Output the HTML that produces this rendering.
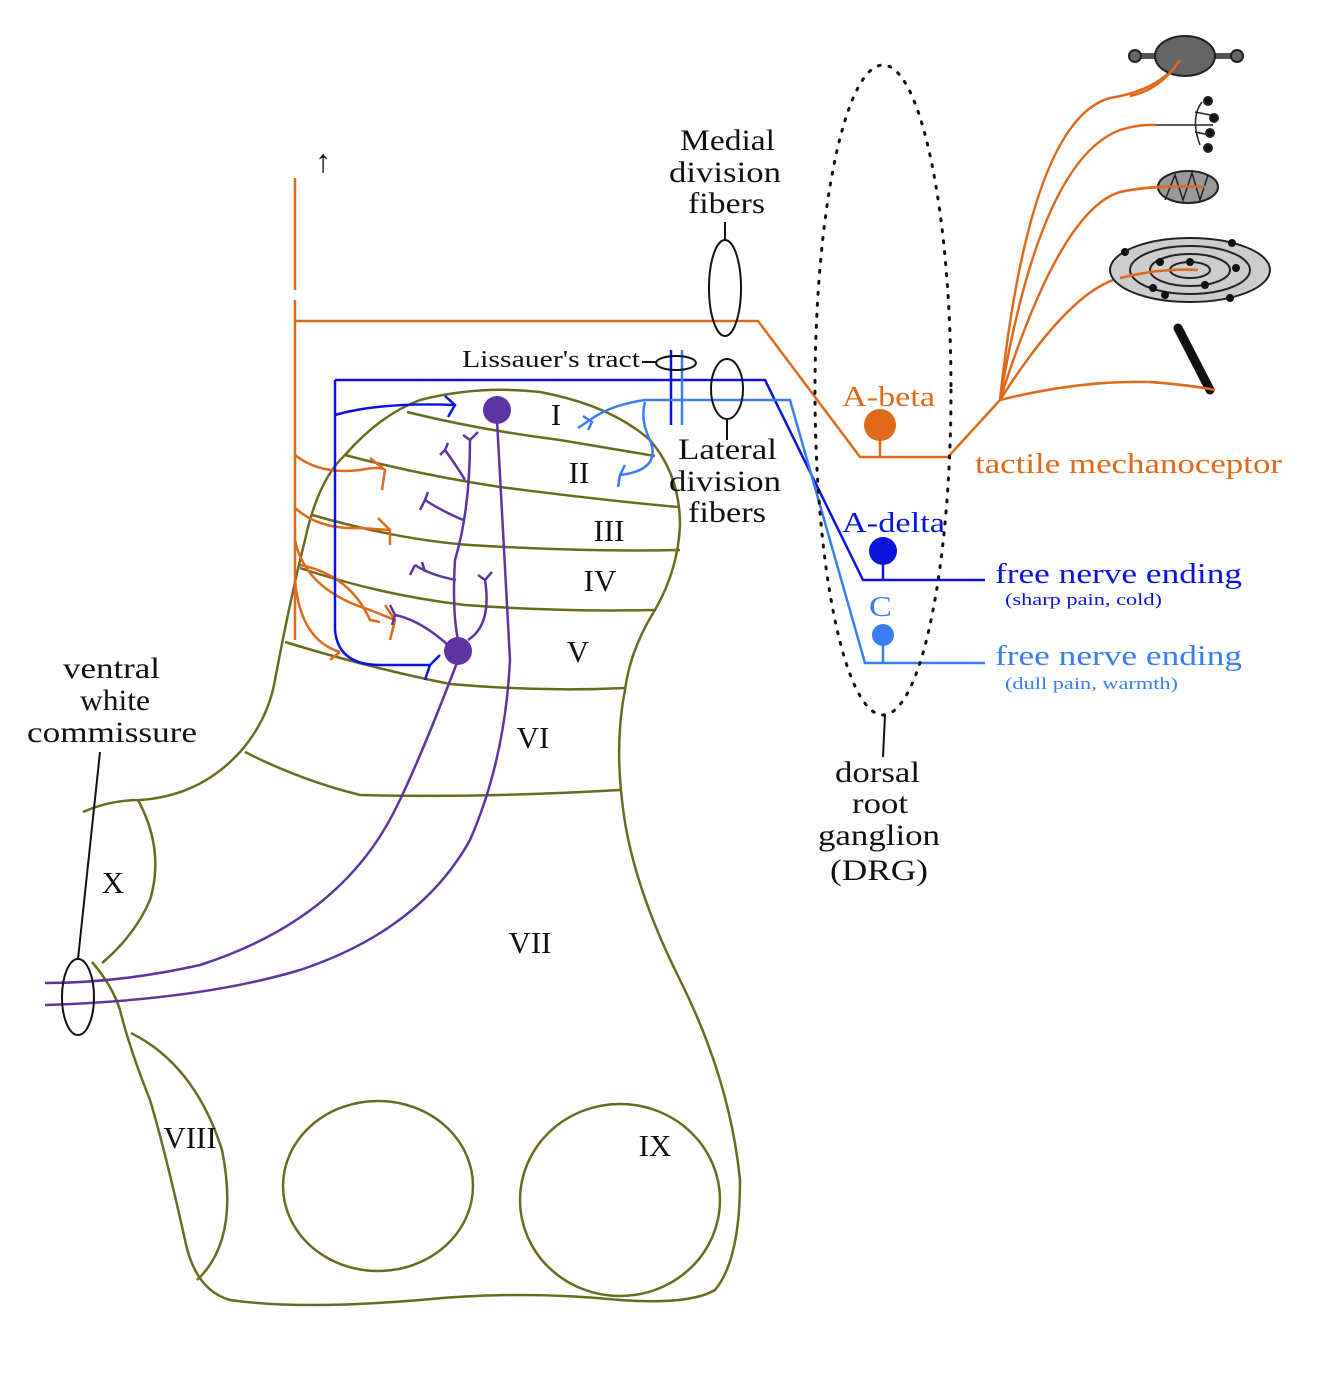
<!DOCTYPE html>
<html><head><meta charset="utf-8"><style>
html,body{margin:0;padding:0;background:#fff}
svg{display:block}
text{font-family:"Liberation Serif",serif}
</style></head><body>
<svg width="1334" height="1385" viewBox="0 0 1334 1385" xmlns="http://www.w3.org/2000/svg">
<g fill="none" stroke="#6b6b1f" stroke-width="2.5">
<path d="M83,812 Q110,800 140,800 Q200,796 240,752 Q268,720 275,680 Q290,600 305,540 Q318,480 345,455 Q380,415 420,400 Q480,385 540,392 Q610,405 650,440 Q680,475 680,525 Q678,570 655,610 Q630,650 625,690 Q615,740 622,800 Q630,880 680,980 Q730,1080 740,1180 Q740,1260 715,1290 Q690,1305 620,1300 Q520,1290 420,1300 Q300,1310 230,1300 Q195,1290 185,1240 Q165,1150 150,1100 Q130,1050 120,1010 Q112,985 92,962"/>
<path d="M138,800 Q165,850 150,900 Q135,935 102,963"/>
<path d="M131,1033 Q195,1065 222,1150 Q240,1240 197,1280"/>
<path d="M407,412 Q480,430 560,440 Q620,450 655,456"/>
<path d="M345,455 Q420,475 500,487 Q600,500 678,507"/>
<path d="M312,515 Q400,540 470,545 Q580,552 680,550"/>
<path d="M300,568 Q380,595 465,605 Q560,612 655,610"/>
<path d="M285,642 Q370,668 450,684 Q540,692 625,688"/>
<path d="M245,752 Q300,780 360,795 Q480,798 620,790"/>
<ellipse cx="378" cy="1186" rx="95" ry="85"/>
<ellipse cx="620" cy="1200" rx="100" ry="96"/>
</g>
<g font-size="31" fill="#111" text-anchor="middle">
<text x="556" y="425">I</text><text x="579" y="483">II</text><text x="609" y="541">III</text>
<text x="600" y="591">IV</text><text x="578" y="662">V</text><text x="533" y="748">VI</text>
<text x="530" y="953">VII</text><text x="190" y="1148">VIII</text><text x="655" y="1156">IX</text>
<text x="113" y="893">X</text>
</g>
<g fill="none" stroke="#e06a1c" stroke-width="2.5">
<path d="M295,178 V290 M295,300 V640"/>
<path d="M295,321 H758 L860,457 H948 L1000,400"/>
<path d="M880,440 V457"/>
<path d="M295,455 Q320,475 360,470 Q380,466 385,470 M370,458 L385,470 L382,490"/>
<path d="M295,508 Q320,530 360,528 L390,530 M378,518 L390,530 L390,545"/>
<path d="M295,540 Q305,590 370,610 L395,620 M385,605 L395,620 L390,640"/>
<path d="M300,565 Q350,575 370,620 L380,622"/>
<path d="M295,580 Q300,640 340,652 M330,660 L340,652"/>
<path d="M1000,400 Q1030,120 1110,98 Q1160,90 1180,60"/>
<path d="M1000,400 Q1040,160 1120,130 Q1140,124 1155,125"/>
<path d="M1000,400 Q1060,210 1120,192 Q1150,185 1205,187"/>
<path d="M1000,400 Q1070,290 1120,278 Q1160,268 1198,270"/>
<path d="M1000,400 Q1080,380 1150,382 Q1190,385 1215,390"/>
</g>
<circle cx="880" cy="425" r="16" fill="#e06a1c"/>
<g stroke="#222" stroke-width="2">
<line x1="1135" y1="56" x2="1240" y2="56" stroke-width="6" stroke="#555"/>
<circle cx="1135" cy="56" r="6" fill="#666"/><circle cx="1237" cy="56" r="6" fill="#666"/>
<ellipse cx="1185" cy="56" rx="30" ry="20" fill="#666"/>
<path d="M1155,125 H1213 M1202,102 Q1190,118 1200,145 M1195,112 L1210,115 M1195,132 L1210,135" fill="none" stroke-width="1.5"/>
<circle cx="1208" cy="101" r="4" fill="#111"/><circle cx="1214" cy="118" r="4" fill="#111"/><circle cx="1210" cy="133" r="4" fill="#111"/><circle cx="1208" cy="148" r="4" fill="#111"/>
<ellipse cx="1188" cy="187" rx="30" ry="16" fill="#999"/>
<path d="M1165,200 L1175,175 L1183,200 L1192,173 L1200,200 L1208,175" fill="none" stroke-width="1.5"/>
<ellipse cx="1190" cy="270" rx="80" ry="32" fill="#ccc"/>
<ellipse cx="1190" cy="270" rx="60" ry="24" fill="none"/>
<ellipse cx="1190" cy="270" rx="40" ry="16" fill="none"/>
<ellipse cx="1190" cy="270" rx="20" ry="8" fill="none"/>
<g fill="#111" stroke="none"><circle cx="1125" cy="252" r="4"/><circle cx="1160" cy="262" r="4"/><circle cx="1232" cy="243" r="4"/><circle cx="1236" cy="268" r="4"/><circle cx="1190" cy="262" r="4"/><circle cx="1153" cy="288" r="4"/><circle cx="1205" cy="285" r="4"/><circle cx="1165" cy="295" r="4"/><circle cx="1230" cy="298" r="4"/></g>
<line x1="1178" y1="328" x2="1210" y2="390" stroke-width="9" stroke="#111" stroke-linecap="round"/>
</g>
<g fill="none" stroke="#e06a1c" stroke-width="2.5">
<path d="M1150,382 Q1190,385 1215,390"/>
<path d="M1198,270 Q1160,268 1120,278"/>
<path d="M1205,187 Q1150,185 1120,192"/>
<path d="M1180,60 Q1160,90 1130,96"/>
</g>
<text x="323" y="172" font-size="32" fill="#111" text-anchor="middle">↑</text>
<g fill="none" stroke="#0a14dc" stroke-width="2.5">
<path d="M335,380 H765 L863,580 H985"/>
<path d="M335,380 V630 Q338,665 380,665 L430,665 M425,680 L430,665 L440,655"/>
<path d="M335,415 Q380,402 455,405 M445,396 L455,405 L448,417"/>
<path d="M671,350 V425"/>
<path d="M883,565 V580"/>
</g>
<circle cx="883" cy="551" r="14" fill="#0a14dc"/>
<g fill="none" stroke="#3b7cf0" stroke-width="2.5">
<path d="M645,400 H790 L865,663 H985"/>
<path d="M645,400 Q610,405 590,420 L578,428 M583,416 L592,422 L588,430"/>
<path d="M645,402 Q640,420 650,440 Q662,470 620,475 M625,465 L620,475 L618,487"/>
<path d="M682,350 V425"/>
<path d="M883,645 V663"/>
</g>
<circle cx="883" cy="635" r="11" fill="#3b7cf0"/>
<g fill="none" stroke="#5e34a0" stroke-width="2.5">
<path d="M497,420 Q505,560 510,660 Q505,760 470,840 Q420,930 300,970 Q200,1000 45,1005"/>
<path d="M458,660 Q420,760 395,810 Q340,920 200,965 Q120,983 45,983"/>
<path d="M458,640 Q452,610 455,560 Q470,510 470,440 M470,440 L463,435 M470,440 L478,432"/>
<path d="M465,480 Q458,468 445,450 M445,450 L440,455 M445,450 L448,443"/>
<path d="M463,520 Q440,510 425,500 M425,500 L420,510 M425,500 L428,492"/>
<path d="M456,580 Q430,575 415,565 M415,565 L410,575 M425,572 L422,562"/>
<path d="M468,640 Q492,625 485,580 M485,580 L478,575 M485,580 L492,572"/>
<path d="M448,645 Q420,620 395,615 M395,615 L390,605 M395,615 L392,625"/>
</g>
<circle cx="497" cy="410" r="14" fill="#5e34a0"/>
<circle cx="458" cy="651" r="14" fill="#5e34a0"/>
<g fill="none" stroke="#111" stroke-width="2">
<ellipse cx="725" cy="288" rx="16" ry="48"/><line x1="725" y1="222" x2="725" y2="240"/>
<ellipse cx="727" cy="389" rx="16" ry="30"/><line x1="727" y1="419" x2="727" y2="440"/>
<ellipse cx="676" cy="363" rx="20" ry="7"/><line x1="642" y1="362" x2="656" y2="362"/>
<ellipse cx="883" cy="390" rx="68" ry="325" stroke-dasharray="2 9" stroke-width="3" stroke-linecap="round"/>
<line x1="885" y1="715" x2="883" y2="757"/>
<ellipse cx="78" cy="997" rx="16" ry="38"/><line x1="78" y1="959" x2="100" y2="752"/>
</g>
<g font-size="30" fill="#111" lengthAdjust="spacingAndGlyphs">
<text x="680" y="150" textLength="95" lengthAdjust="spacingAndGlyphs">Medial</text>
<text x="669" y="182" textLength="112" lengthAdjust="spacingAndGlyphs">division</text>
<text x="688" y="213" textLength="77" lengthAdjust="spacingAndGlyphs">fibers</text>
<text x="678" y="459" textLength="99" lengthAdjust="spacingAndGlyphs">Lateral</text>
<text x="669" y="491" textLength="112" lengthAdjust="spacingAndGlyphs">division</text>
<text x="688" y="522" textLength="78" lengthAdjust="spacingAndGlyphs">fibers</text>
<text x="835" y="782" textLength="85" lengthAdjust="spacingAndGlyphs">dorsal</text>
<text x="852" y="813" textLength="56" lengthAdjust="spacingAndGlyphs">root</text>
<text x="818" y="845" textLength="122" lengthAdjust="spacingAndGlyphs">ganglion</text>
<text x="830" y="880" textLength="98" lengthAdjust="spacingAndGlyphs">(DRG)</text>
<text x="63" y="678" textLength="97" lengthAdjust="spacingAndGlyphs">ventral</text>
<text x="80" y="710" textLength="70" lengthAdjust="spacingAndGlyphs">white</text>
<text x="27" y="742" textLength="170" lengthAdjust="spacingAndGlyphs">commissure</text>
</g>
<text x="462" y="367" font-size="24" fill="#111" textLength="178" lengthAdjust="spacingAndGlyphs">Lissauer's tract</text>
<text x="842" y="406" font-size="29" fill="#e06a1c" textLength="93" lengthAdjust="spacingAndGlyphs">A-beta</text>
<text x="975" y="473" font-size="28" fill="#e06a1c" textLength="307" lengthAdjust="spacingAndGlyphs">tactile mechanoceptor</text>
<text x="842" y="532" font-size="29" fill="#0a14dc" textLength="103" lengthAdjust="spacingAndGlyphs">A-delta</text>
<text x="995" y="583" font-size="29" fill="#0a14dc" textLength="247" lengthAdjust="spacingAndGlyphs">free nerve ending</text>
<text x="1005" y="605" font-size="17" fill="#0a14dc" textLength="157" lengthAdjust="spacingAndGlyphs">(sharp pain, cold)</text>
<text x="869" y="616" font-size="29" fill="#3b7cf0" textLength="23" lengthAdjust="spacingAndGlyphs">C</text>
<text x="995" y="665" font-size="29" fill="#3b7cf0" textLength="247" lengthAdjust="spacingAndGlyphs">free nerve ending</text>
<text x="1005" y="689" font-size="17" fill="#3b7cf0" textLength="173" lengthAdjust="spacingAndGlyphs">(dull pain, warmth)</text>
</svg>
</body></html>
